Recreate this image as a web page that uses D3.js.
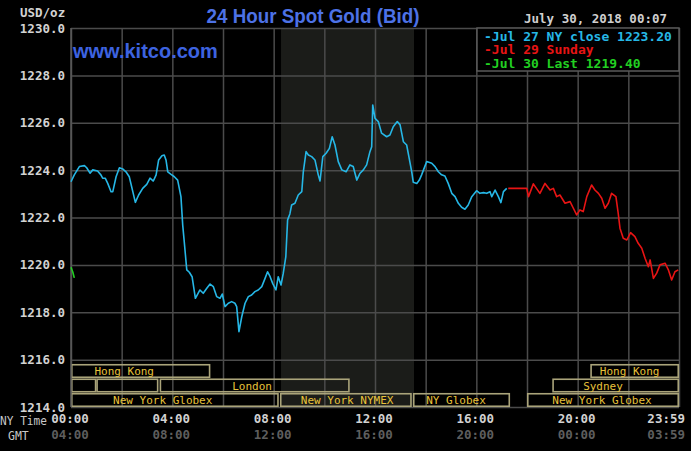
<!DOCTYPE html>
<html><head><meta charset="utf-8">
<script src="https://cdn.jsdelivr.net/npm/d3@7"></script>
<style>
html,body{margin:0;padding:0;background:#000;}
svg{display:block;}
</style></head>
<body>
<svg id="chart" width="691" height="451"></svg>
<script>
// ---------- DATA ----------
const cyanTimes = [0,0.13,0.33,0.53,0.62,0.75,0.86,1.05,1.18,1.25,1.35,1.45,1.58,1.65,1.78,1.91,2.04,2.17,2.30,2.44,2.54,2.67,2.83,2.99,3.12,3.25,3.36,3.46,3.59,3.68,3.75,3.82,3.95,4.08,4.21,4.34,4.41,4.47,4.57,4.67,4.78,4.87,4.91,5.09,5.22,5.36,5.49,5.62,5.75,5.88,5.97,6.08,6.21,6.34,6.47,6.54,6.63,6.74,6.87,7.00,7.13,7.26,7.39,7.53,7.66,7.76,7.86,7.96,8.09,8.18,8.29,8.38,8.48,8.55,8.64,8.71,8.84,8.97,9.11,9.17,9.28,9.37,9.50,9.63,9.76,9.83,9.94,10.07,10.20,10.31,10.42,10.55,10.69,10.86,11.01,11.14,11.28,11.41,11.54,11.67,11.80,11.87,11.91,12.00,12.13,12.26,12.46,12.59,12.72,12.88,12.99,13.12,13.25,13.35,13.45,13.51,13.65,13.75,13.84,14.04,14.24,14.37,14.50,14.63,14.76,14.89,15.03,15.16,15.29,15.42,15.55,15.68,15.82,16.01,16.14,16.28,16.41,16.54,16.61,16.74,16.87,16.97,17.07,17.20];
const cyanValues = [1223.51,1223.80,1224.15,1224.19,1224.10,1223.87,1224.01,1223.96,1223.80,1223.66,1223.66,1223.44,1223.09,1223.09,1223.72,1224.10,1224.05,1223.93,1223.72,1223.09,1222.64,1222.95,1223.23,1223.40,1223.66,1223.54,1223.80,1224.43,1224.61,1224.64,1224.43,1223.93,1223.82,1223.72,1223.58,1222.88,1221.68,1220.98,1219.79,1219.69,1219.50,1218.87,1218.59,1218.94,1218.80,1219.01,1219.19,1219.08,1218.66,1218.59,1218.77,1218.24,1218.38,1218.45,1218.38,1218.24,1217.18,1217.81,1218.38,1218.66,1218.73,1218.87,1218.94,1219.08,1219.43,1219.71,1219.50,1219.22,1218.94,1219.50,1219.15,1219.65,1220.35,1221.90,1222.15,1222.53,1222.60,1222.95,1223.09,1223.93,1224.78,1224.64,1224.57,1224.43,1223.80,1223.54,1224.57,1224.71,1224.92,1225.41,1225.06,1224.36,1224.01,1223.93,1224.22,1224.15,1223.58,1223.87,1224.01,1224.22,1224.78,1224.99,1226.75,1226.19,1226.05,1225.56,1225.41,1225.48,1225.83,1226.05,1225.91,1225.20,1225.06,1224.50,1223.93,1223.49,1223.44,1223.58,1223.80,1224.36,1224.29,1224.15,1223.93,1223.80,1223.75,1223.44,1223.02,1222.88,1222.60,1222.43,1222.35,1222.53,1222.88,1223.13,1223.02,1223.05,1223.02,1223.09,1222.88,1223.16,1222.88,1222.63,1223.09,1223.23];
const redTimes = [17.26,17.99,18.06,18.25,18.51,18.71,18.91,19.04,19.17,19.30,19.50,19.70,19.83,19.96,20.09,20.22,20.36,20.55,20.68,20.82,20.95,21.08,21.21,21.34,21.51,21.60,21.67,21.80,21.94,22.09,22.26,22.39,22.53,22.66,22.79,22.86,22.99,23.12,23.25,23.45,23.58,23.71,23.84,23.97];
const redValues = [1223.23,1223.23,1222.88,1223.42,1223.02,1223.44,1223.16,1223.23,1222.88,1222.95,1222.60,1222.67,1222.39,1222.11,1222.32,1222.25,1222.88,1223.37,1223.16,1223.02,1222.81,1222.39,1222.60,1223.02,1222.88,1222.18,1221.55,1221.12,1221.05,1221.36,1221.19,1220.91,1220.70,1220.28,1219.92,1220.21,1219.43,1219.65,1220.00,1220.07,1219.79,1219.36,1219.71,1219.79];
const greenTimes = [0,0.07,0.13];
const greenValues = [1219.90,1219.70,1219.45];

const yTicks = [1214,1216,1218,1220,1222,1224,1226,1228,1230];
const xTicks = [0,4,8,12,16,20,24];
const nyLabels = ["00:00","04:00","08:00","12:00","16:00","20:00","23:59"];
const gmtLabels = ["04:00","08:00","12:00","16:00","20:00","00:00","03:59"];

const legendLabels = ["-Jul 27 NY close 1223.20","-Jul 29 Sunday","-Jul 30 Last 1219.40"];
const titleText = "24 Hour Spot Gold (Bid)";
const dateText = "July 30, 2018 00:07";

// sessions: [row, start hour, end hour, label, label centre hour]
const sessionRows = [0,0,1,1,1,1,2,2,2,2];
const sessionStart = [0,20.5,0,1.0,3.5,19.0,0,8.25,13.5,18.0];
const sessionEnd = [5.5,24,1.0,3.45,11.0,24,8.2,13.45,17.33,24];
const sessionLabels = ["Hong Kong","Hong Kong","","","London","Sydney","New York Globex","New York NYMEX","NY Globex","New York Globex"];
const sessionLabelAt = [2.1,22.05,null,null,7.15,21.0,3.62,10.9,15.2,20.96];
const shadeRange = [8.29,13.54];

// ---------- DRAW ----------
const svg = d3.select("#chart");
const X0=71, X1=679, Y0=28, Y1=407;
const x = d3.scaleLinear().domain([0,24]).range([X0,X1]);
const y = d3.scaleLinear().domain([1214,1230]).range([Y1,Y0]);
const mono = "'DejaVu Sans Mono', 'Liberation Mono', monospace";
const sans = "'Liberation Sans', Arial, sans-serif";

svg.append("rect").attr("width",691).attr("height",451).attr("fill","#000");

// shaded trading window
svg.append("rect")
  .attr("x",x(shadeRange[0])).attr("y",Y0)
  .attr("width",x(shadeRange[1])-x(shadeRange[0])).attr("height",Y1-Y0)
  .attr("fill","#1b1c19");

// grid via axes
const gridColor = "#4b4b4b";
const gx = svg.append("g").attr("transform",`translate(0,${Y1})`)
  .call(d3.axisBottom(x).tickValues(d3.range(0,25,2)).tickSize(-(Y1-Y0)).tickFormat(""));
gx.select(".domain").remove();
gx.selectAll("line").attr("stroke",gridColor).attr("stroke-width",1.5);

const gy = svg.append("g").attr("transform",`translate(${X0},0)`)
  .call(d3.axisLeft(y).tickValues(yTicks).tickSize(-(X1-X0)).tickFormat(""));
gy.select(".domain").remove();
gy.selectAll("line").attr("stroke",gridColor).attr("stroke-width",1.5);

// y tick labels
const ya = svg.append("g").attr("transform",`translate(${X0},0)`)
  .call(d3.axisLeft(y).tickValues(yTicks).tickSize(0).tickPadding(6).tickFormat(d=>d.toFixed(1)));
ya.select(".domain").remove();
ya.selectAll("text").attr("fill","#d2d2d2").attr("font-family",mono)
  .attr("font-size","12.5px").attr("font-weight","bold");

// session boxes
const rowTop = [364,378.5,393];
const rowH = 14;
const sess = svg.append("g");
sessionRows.forEach((r,i)=>{
  sess.append("rect")
    .attr("x",x(sessionStart[i])+0.75).attr("y",rowTop[r]+0.75)
    .attr("width",x(sessionEnd[i])-x(sessionStart[i])-1.5).attr("height",rowH-1.5)
    .attr("fill","none").attr("stroke","#aaa47a").attr("stroke-width",1.6);
  if(sessionLabels[i]){
    sess.append("text").attr("x",x(sessionLabelAt[i])).attr("y",rowTop[r]+rowH/2+4)
      .attr("text-anchor","middle").attr("fill","#e8c23a")
      .attr("font-family",mono).attr("font-size","11px").text(sessionLabels[i]);
  }
});

// plot frame left
svg.append("line").attr("x1",X0).attr("x2",X0).attr("y1",Y0).attr("y2",Y1)
  .attr("stroke","#5a5a5a").attr("stroke-width",1.5);

// lines
const line = d3.line().x(d=>x(d[0])).y(d=>y(d[1]));
function drawSeries(ts,vs,color){
  svg.append("path").datum(ts.map((t,i)=>[t,vs[i]]))
    .attr("d",line).attr("fill","none").attr("stroke",color)
    .attr("stroke-width",1.6).attr("stroke-linejoin","round");
}
drawSeries(cyanTimes,cyanValues,"#26b7e6");
drawSeries(redTimes,redValues,"#e81414");
drawSeries(greenTimes,greenValues,"#22d022");

// x labels
const xl = svg.append("g");
xTicks.forEach((t,i)=>{
  const last = i===xTicks.length-1;
  const px = last ? x(t)+6 : x(t)-1;
  xl.append("text").attr("x",px).attr("y",423).attr("text-anchor",last?"end":"middle")
    .attr("fill","#d2d2d2").attr("font-family",mono).attr("font-size","12.5px").attr("font-weight","bold")
    .text(nyLabels[i]);
  xl.append("text").attr("x",px).attr("y",439).attr("text-anchor",last?"end":"middle")
    .attr("fill","#5e5e5e").attr("font-family",mono).attr("font-size","12.5px").attr("font-weight","bold")
    .text(gmtLabels[i]);
});
svg.append("text").attr("x",0).attr("y",425).attr("fill","#c8c8c8").attr("font-family",mono)
  .attr("font-size","11.5px").attr("textLength",47).attr("lengthAdjust","spacingAndGlyphs").text("NY Time");
svg.append("text").attr("x",8).attr("y",440).attr("fill","#c8c8c8").attr("font-family",mono)
  .attr("font-size","11.5px").text("GMT");

// unit
svg.append("text").attr("x",20).attr("y",17).attr("fill","#d2d2d2").attr("font-family",mono)
  .attr("font-size","12.5px").attr("font-weight","bold").text("USD/oz");

// title
svg.append("text").attr("x",313).attr("y",23).attr("text-anchor","middle")
  .attr("fill","#4d72e6").attr("font-family",sans).attr("font-weight","bold")
  .attr("font-size","20px").attr("textLength",213).attr("lengthAdjust","spacingAndGlyphs").text(titleText);

// kitco
svg.append("text").attr("x",73).attr("y",58).attr("fill","#3d63e0").attr("font-family",sans)
  .attr("font-weight","bold").attr("font-size","20px").text("www.kitco.com");

// date
svg.append("text").attr("x",667).attr("y",23).attr("text-anchor","end").attr("fill","#d0d0d0")
  .attr("font-family",mono).attr("font-size","12.5px").attr("font-weight","bold").text(dateText);

// legend
svg.append("rect").attr("x",477).attr("y",Y0).attr("width",X1-477).attr("height",43)
  .attr("fill","#000").attr("stroke","#5a5a5a").attr("stroke-width",1.5);
const legColors = ["#26b7e6","#e81414","#22d022"];
legendLabels.forEach((s,i)=>{
  svg.append("text").attr("x",484).attr("y",40.5+i*13.5).attr("fill",legColors[i])
    .attr("font-family",mono).attr("font-size","13px").attr("font-weight","bold").text(s);
});
</script>
</body></html>
